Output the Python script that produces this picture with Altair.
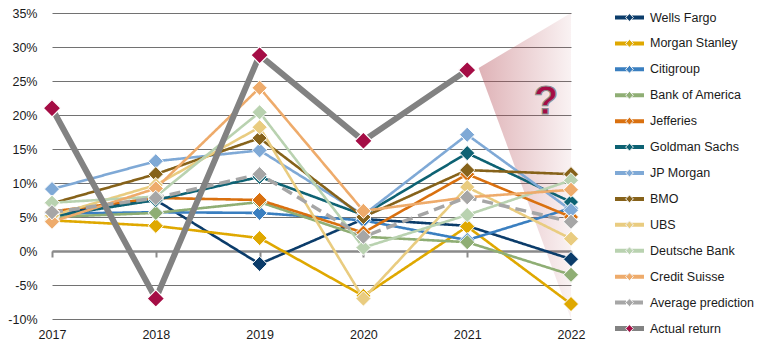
import altair as alt
import pandas as pd

# ---------------- data ----------------
years = [2017, 2018, 2019, 2020, 2021, 2022]

series_names = [
    "Wells Fargo", "Morgan Stanley", "Citigroup", "Bank of America", "Jefferies",
    "Goldman Sachs", "JP Morgan", "BMO", "UBS", "Deutsche Bank", "Credit Suisse",
    "Average prediction", "Actual return",
]

wells_fargo = [5.5, 7.5, -1.9, 4.7, 3.7, -1.2]
morgan_stanley = [4.5, 3.7, 1.9, -6.6, 3.6, -7.8]
citigroup = [5.5, 5.7, 5.6, 4.5, 1.6, 6.3]
bank_of_america = [5.0, 5.6, 7.2, 2.1, 1.3, -3.5]
jefferies = [5.8, 7.8, 7.5, 2.7, 11.3, 5.0]
goldman_sachs = [5.1, 7.5, 10.9, 5.3, 14.4, 7.2]
jp_morgan = [9.1, 13.2, 14.8, 5.3, 17.1, 6.0]
bmo = [7.0, 11.3, 16.6, 5.0, 11.9, 11.3]
ubs = [5.2, 9.7, 18.2, -7.0, 9.4, 1.8]
deutsche_bank = [7.1, 8.0, 20.4, 0.5, 5.3, 10.4]
credit_suisse = [4.3, 9.2, 24.0, 5.9, 7.9, 9.0]
average_prediction = [5.7, 7.8, 11.3, 2.1, 7.9, 4.3]
actual_return = [21.0, -7.0, 28.8, 16.2, 26.6, None]

all_values = [
    wells_fargo, morgan_stanley, citigroup, bank_of_america, jefferies,
    goldman_sachs, jp_morgan, bmo, ubs, deutsche_bank, credit_suisse,
    average_prediction, actual_return,
]

# shaded "unknown" wedge after 2021 and the question mark
wedge_x = [2021.11, 2022]
wedge_top = [26.9, 35]
wedge_bottom = [26.9, -10]
question_x = [2021.76]
question_y = [21.9]

y_ticks = [-10, -5, 0, 5, 10, 15, 20, 25, 30, 35]

# ---------------- styles ----------------
line_colors = [
    "#0b3c6a", "#dfa800", "#3a7fc0", "#8fae74", "#d9700f", "#0d6273",
    "#7fa9d6", "#86621a", "#e9cc80", "#b9d2b0", "#eeab6b", "#a6a6a6", "#828282",
]
marker_colors = line_colors[:-1] + ["#a50d45"]
dashes = [[1, 0]] * 11 + [[11, 6], [1, 0]]

FONT = "Liberation Sans"

rows = []
for name, vals in zip(series_names, all_values):
    for yr, v in zip(years, vals):
        if v is not None:
            rows.append({"series": name, "year": yr, "value": v})
df = pd.DataFrame(rows)
banks_df = df[df["series"] != "Actual return"]
actual_df = df[df["series"] == "Actual return"]

wedge_df = pd.DataFrame({"x": wedge_x, "top": wedge_top, "bottom": wedge_bottom})
q_df = pd.DataFrame({"x": question_x, "y": question_y})
legend_df = pd.DataFrame({"series": series_names})

x_scale = alt.Scale(domain=[2017, 2022], nice=False, zero=False)
y_scale = alt.Scale(domain=[-10, 35], nice=False, zero=False)
line_scale = alt.Scale(domain=series_names, range=line_colors)
marker_scale = alt.Scale(domain=series_names, range=marker_colors)
dash_scale = alt.Scale(domain=series_names, range=dashes)

x_axis = alt.Axis(
    values=years, format="d", title=None, grid=False,
    domain=True, domainColor="#8a8a8a", domainWidth=2.5,
    ticks=True, tickColor="#8a8a8a", tickWidth=2, tickSize=6,
    offset=-68, labelPadding=71, labelFlush=False,
)
y_axis = alt.Axis(
    values=y_ticks, labelExpr="datum.value + '%'", title=None,
    grid=True, gridColor="#727272", gridWidth=1,
    domain=False, ticks=False, labelPadding=15, labelFlush=False,
    minExtent=44, maxExtent=44,
)

X = alt.X("year:Q", scale=x_scale, axis=x_axis)
Y = alt.Y("value:Q", scale=y_scale, axis=y_axis)

gradient = alt.Gradient(
    gradient="linear",
    stops=[
        alt.GradientStop(color="rgba(178,72,82,0.42)", offset=0),
        alt.GradientStop(color="rgba(178,72,82,0.07)", offset=1),
    ],
    x1=0, x2=1, y1=0, y2=0,
)

wedge = alt.Chart(wedge_df).mark_area(fill=gradient).encode(
    x=alt.X("x:Q", scale=x_scale, axis=x_axis),
    y=alt.Y("top:Q", scale=y_scale, axis=y_axis),
    y2="bottom:Q",
)

bank_lines = alt.Chart(banks_df).mark_line().encode(
    x=X, y=Y,
    color=alt.Color("series:N", scale=line_scale, legend=None),
    strokeDash=alt.StrokeDash("series:N", scale=dash_scale, legend=None),
    strokeWidth=alt.condition(alt.datum.series == "Average prediction", alt.value(3.5), alt.value(2.6)),
)

actual_line = alt.Chart(actual_df).mark_line(color="#828282", strokeWidth=6).encode(x=X, y=Y)

bank_points = alt.Chart(banks_df).mark_point(
    shape="diamond", filled=True, size=230, stroke="white", strokeWidth=1, opacity=1
).encode(
    x=X, y=Y,
    fill=alt.Fill("series:N", scale=marker_scale, legend=None),
)

actual_points = alt.Chart(actual_df).mark_point(
    shape="diamond", filled=True, size=300, stroke="white", strokeWidth=1.2, opacity=1
).encode(
    x=X, y=Y,
    fill=alt.Fill("series:N", scale=marker_scale, legend=None),
)

question = alt.Chart(q_df).mark_text(
    text="?", font=FONT, fontSize=40, fontWeight="bold",
    fill="#a50d45", stroke="#8c8c8c", strokeWidth=1.2,
    align="center", baseline="middle",
).encode(
    x=alt.X("x:Q", scale=x_scale, axis=x_axis),
    y=alt.Y("y:Q", scale=y_scale, axis=y_axis),
)

data_layer = alt.layer(wedge, bank_lines, actual_line, bank_points, actual_points, question)

# ---------------- legend ----------------
leg_y = alt.Y(
    "series:N",
    scale=alt.Scale(type="point", domain=series_names, range=[4.5, 315.5], padding=0),
    axis=None,
)

leg_rules = alt.Chart(legend_df).mark_rule().encode(
    x=alt.value(563), x2=alt.value(592), y=leg_y,
    color=alt.Color("series:N", scale=line_scale, legend=None),
    strokeDash=alt.StrokeDash("series:N", scale=dash_scale, legend=None),
    strokeWidth=alt.condition(alt.datum.series == "Actual return", alt.value(5), alt.value(4)),
)
leg_points = alt.Chart(legend_df).mark_point(
    shape="diamond", filled=True, size=60, stroke="#f2f2f2", strokeWidth=1, opacity=1
).encode(
    x=alt.value(577.5), y=leg_y,
    fill=alt.Fill("series:N", scale=marker_scale, legend=None),
)
leg_text = alt.Chart(legend_df).mark_text(
    align="left", baseline="middle", font=FONT, fontSize=12.5, color="#1a1a1a"
).encode(
    x=alt.value(598), y=leg_y, text="series:N",
)

legend_layer = alt.layer(leg_rules, leg_points, leg_text)

chart = (
    alt.layer(data_layer, legend_layer)
    .resolve_scale(y="independent")
    .properties(
        width=519, height=306,
        padding={"left": 7, "top": 7, "right": 5, "bottom": 5},
        background="white",
    )
    .configure_view(stroke=None)
    .configure_axis(labelFont=FONT, labelFontSize=12.5, labelColor="#1a1a1a")
)

chart.save("out.html", embed_options={"renderer": "svg", "actions": False})
